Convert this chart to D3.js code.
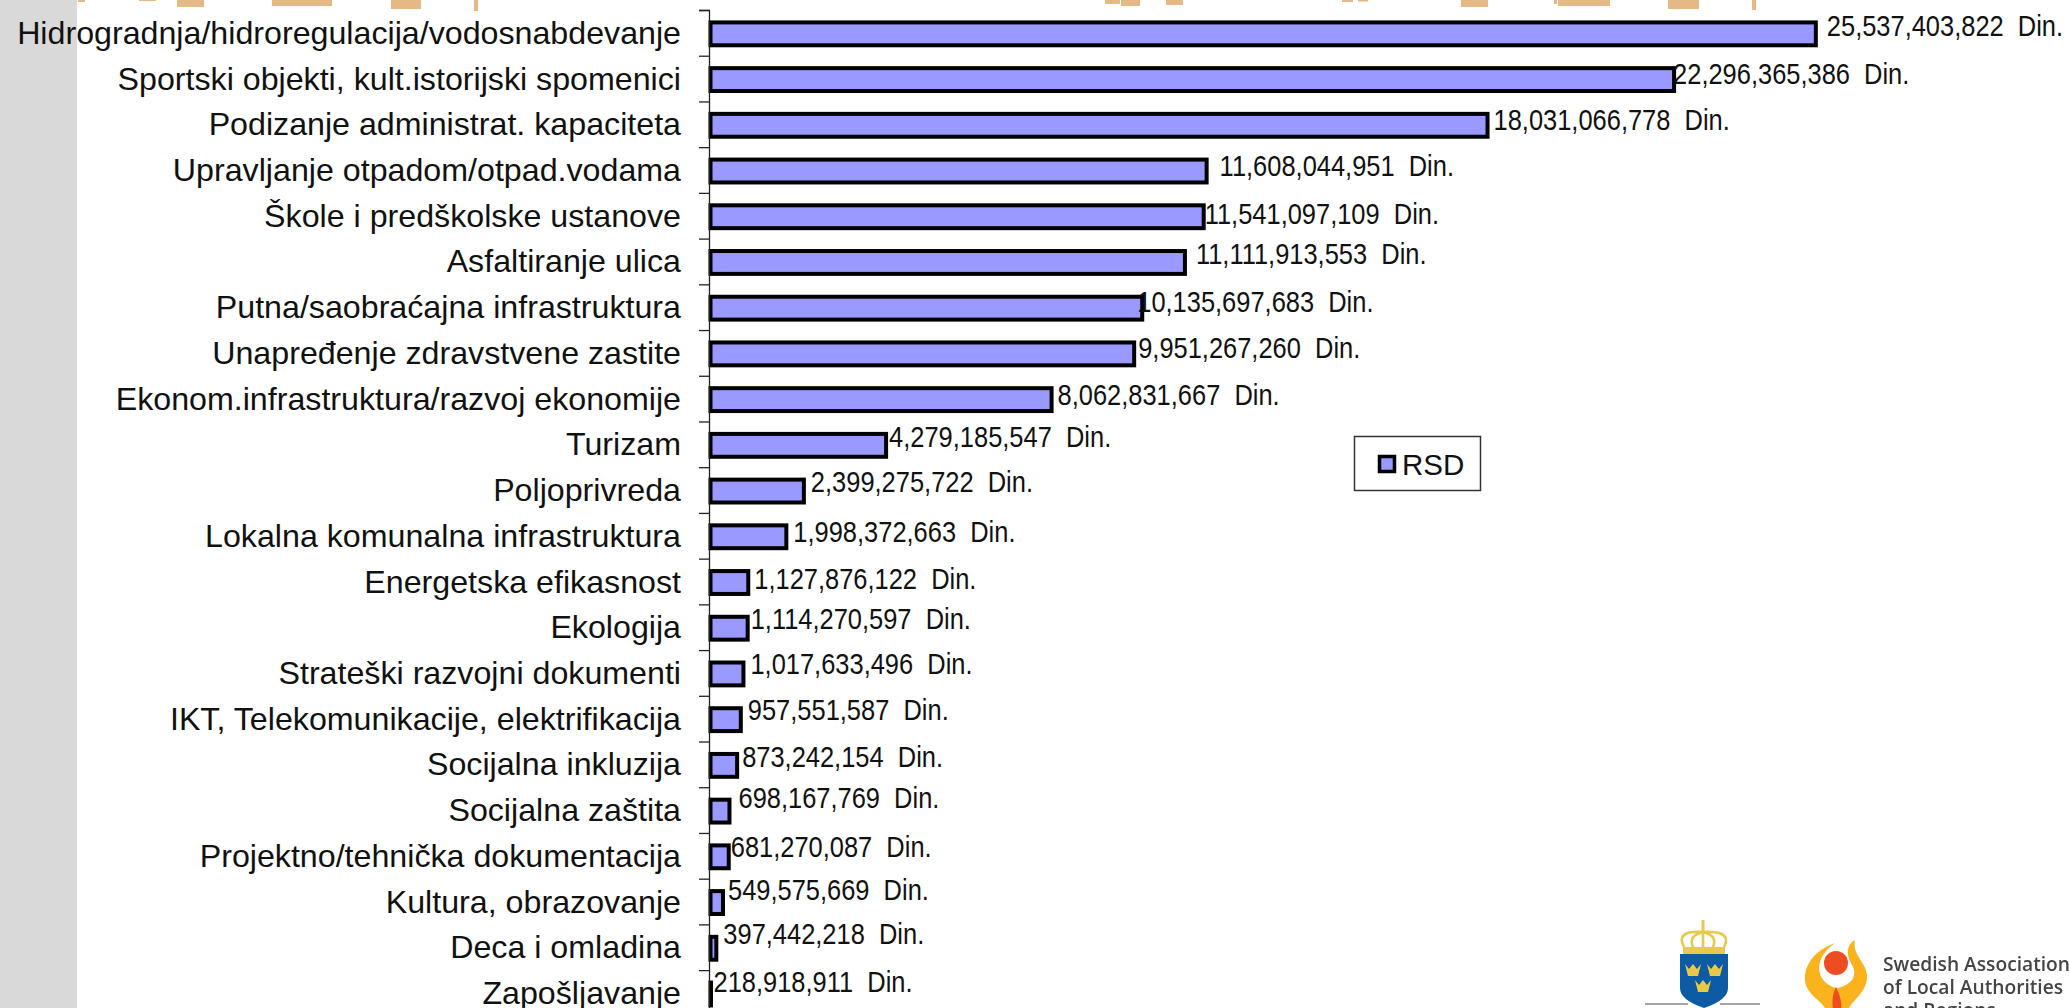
<!DOCTYPE html>
<html><head><meta charset="utf-8">
<script src="https://cdn.jsdelivr.net/npm/d3@7"></script>
<style>html,body{margin:0;padding:0;background:#fff;overflow:hidden}svg{display:block}text{font-family:"Liberation Sans",Arial,sans-serif;fill:#111;white-space:pre}</style>
</head><body><svg id="c" width="2069" height="1008"></svg>
<script>
const categories=["Hidrogradnja/hidroregulacija/vodosnabdevanje","Sportski objekti, kult.istorijski spomenici","Podizanje administrat. kapaciteta","Upravljanje otpadom/otpad.vodama","Škole i predškolske ustanove","Asfaltiranje ulica","Putna/saobraćajna infrastruktura","Unapređenje zdravstvene zastite","Ekonom.infrastruktura/razvoj ekonomije","Turizam","Poljoprivreda","Lokalna komunalna infrastruktura","Energetska efikasnost","Ekologija","Strateški razvojni dokumenti","IKT, Telekomunikacije, elektrifikacija","Socijalna inkluzija","Socijalna zaštita","Projektno/tehnička dokumentacija","Kultura, obrazovanje","Deca i omladina","Zapošljavanje"];
const values=[25537403822,22296365386,18031066778,11608044951,11541097109,11111913553,10135697683,9951267260,8062831667,4279185547,2399275722,1998372663,1127876122,1114270597,1017633496,957551587,873242154,698167769,681270087,549575669,397442218,218918911];
const seriesName="RSD";
const labelDx=[9,-3,4,11,-1,9,-7,2,4,1,5,5,4,1,5,5,3,7,0,3,5,3];
const labelDy=[-7,-5,-4,-4,-2,-8,-5,-5,-4,-8,-8,-4,-3,-8,-9,-9,-8,-12,-9,-12,-13,-11];
const bannerStart=[78,139,177,272,391,474,1105,1121,1166,1342,1358,1461,1554,1558,1668,1752];
const bannerEnd=[85,156,204,332,421,478,1120,1140,1183,1353,1368,1488,1557,1610,1699,1756];
const bannerDepth=[2,1,7,6,9,11,4,6,5,2,1.5,7,4,6,9,10];
const logoLines=["Swedish Association","of Local Authorities","and Regions"];
const svg=d3.select("#c");
const defs=svg.append("defs");
defs.append("filter").attr("id","soft").append("feGaussianBlur").attr("stdDeviation",0.7);
svg.append("rect").attr("x",0).attr("y",0).attr("width",77).attr("height",1008).attr("fill","#d9d9d9");
svg.append("g").attr("filter","url(#soft)").selectAll("rect").data(bannerStart).join("rect")
 .attr("x",d=>d).attr("y",-2).attr("width",(d,i)=>bannerEnd[i]-d).attr("height",(d,i)=>bannerDepth[i]+2).attr("fill","#e5b985");
const axisX=709;
const x=d3.scaleLinear().domain([230e6,30e9]).range([axisX,axisX+1302]);
const y=d3.scaleBand().domain(categories).range([10,10+22*45.72]).paddingInner(0.5).paddingOuter(0.25);
const barStart=axisX+1.5;
svg.append("g").selectAll("rect").data(values).join("rect")
 .attr("x",barStart).attr("y",(d,i)=>y(categories[i])+1)
 .attr("width",d=>Math.max(0.5,x(d)-barStart)).attr("height",y.bandwidth())
 .attr("fill","#9999ff").attr("stroke","#000").attr("stroke-width",4);
const tickScale=d3.scaleLinear().domain([0,22]).range([10,10+22*45.72]);
svg.append("g").attr("transform",`translate(${axisX},0)`)
 .call(d3.axisLeft(tickScale).ticks(22).tickSize(10).tickFormat(""))
 .call(g=>g.selectAll("path,line").attr("stroke","#222").attr("stroke-width",1.3));
svg.append("g").selectAll("text").data(categories).join("text")
 .attr("x",681).attr("y",d=>y(d)+y.bandwidth()/2).attr("text-anchor","end").attr("dominant-baseline","central")
 .attr("font-size",32.2).text(d=>d);
const fmt=d3.format(",");
svg.append("g").selectAll("text").data(values).join("text")
 .attr("transform",(d,i)=>`translate(${x(d)+2+labelDx[i]},${y(categories[i])+y.bandwidth()/2+labelDy[i]}) scale(.86,1)`)
 .attr("dominant-baseline","central").attr("font-size",29.6).text(d=>fmt(d)+"  Din.");
const lg=svg.append("g");
lg.append("rect").attr("x",1354.5).attr("y",436.5).attr("width",126).attr("height",54).attr("fill","#fff").attr("stroke","#333").attr("stroke-width",1.5);
lg.append("rect").attr("x",1379.5).attr("y",456.5).attr("width",15).attr("height",15).attr("fill","#9999ff").attr("stroke","#000").attr("stroke-width",3.5);
lg.append("text").attr("x",1402).attr("y",464).attr("dominant-baseline","central").attr("font-size",29.5).text(seriesName);
// logos
const arms=svg.append("g").attr("filter","url(#soft)");
arms.append("path").attr("fill","#0b5aa5").attr("d","M1680,954H1728V988Q1728,1000 1704,1008Q1680,1000 1680,988Z");
const gold="#e8c94a";
arms.append("rect").attr("x",1683).attr("y",947).attr("width",42).attr("height",7).attr("fill",gold);
arms.append("path").attr("fill","none").attr("stroke",gold).attr("stroke-width",2.6)
 .attr("d","M1684,947C1676,932 1692,931 1703,932C1714,931 1732,932 1724,947M1693,947C1689,938 1695,934 1703,932C1711,934 1717,938 1713,947M1703,932V947");
arms.append("rect").attr("x",1701.5).attr("y",920).attr("width",3).attr("height",12).attr("fill",gold);
[[1693,971],[1715,971],[1703,987]].forEach(([a,b])=>arms.append("path").attr("fill",gold)
 .attr("d",`M${a-8},${b-7}L${a-4},${b-2}L${a},${b-7}L${a+4},${b-2}L${a+8},${b-7}L${a+5},${b+5}H${a-5}Z`));
arms.append("path").attr("stroke","#888").attr("stroke-width",1.5).attr("fill","none").attr("d","M1645,1004H1688M1720,1004H1760");
arms.append("path").attr("fill","#fab31e").attr("d","M1835,943C1815,950 1804,965 1805,980C1806,995 1822,1000 1826,1010H1848C1852,1000 1868,992 1867,975C1866,962 1852,955 1855,940C1846,945 1846,955 1852,965C1858,975 1852,985 1838,988C1826,987 1816,975 1820,962C1822,955 1828,948 1835,943Z");
arms.append("path").attr("fill","#ee4e24").attr("d","M1836,987C1832,995 1832,1002 1833,1010H1841C1842,1002 1840,995 1836,987Z");
arms.append("circle").attr("cx",1836).attr("cy",963).attr("r",12).attr("fill","#ee4e24");
svg.append("g").attr("filter","url(#soft)").selectAll("text").data(logoLines).join("text")
 .attr("x",1883).attr("y",(d,i)=>971+i*23).attr("font-size",19.2)
 .style("font-family",'"Open Sans",sans-serif').style("font-weight",600).style("fill","#444").text(d=>d);
</script></body></html>
